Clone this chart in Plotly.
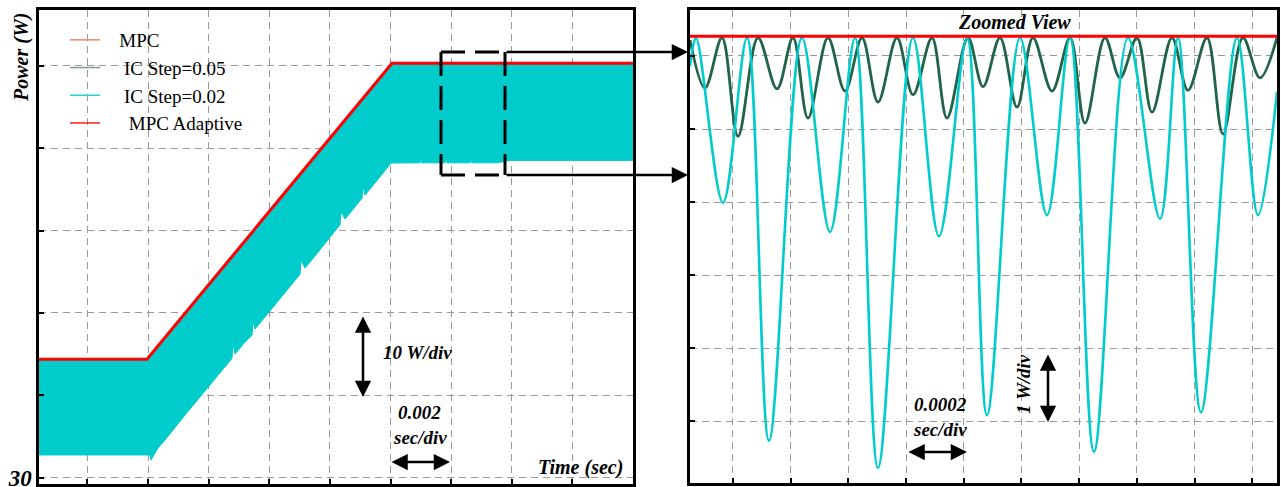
import plotly.graph_objects as go

# ---------------- data ----------------
# Left panel: full transient (time in ms, power in W)
mpc_adaptive_t = [0.0, 3.564, 11.648, 19.6]
mpc_adaptive_p = [44.4, 44.4, 80.27, 80.27]

# IC Step=0.02 band (upper envelope follows the MPC Adaptive curve)
ic02_lower_t = [0.0, 3.663, 3.696, 3.762, 3.927, 4.158, 4.488, 4.818, 5.148, 5.478,
                5.807, 6.137, 6.368, 6.401, 6.467, 6.797, 7.028, 7.061, 7.127, 7.457,
                7.787, 8.117, 8.447, 8.612, 8.645, 8.777, 9.107, 9.437, 9.767, 9.932,
                9.965, 10.097, 10.427, 10.658, 10.691, 10.757, 11.087, 11.417, 11.615,
                12.572, 12.60, 12.63, 13.397, 13.43, 13.46, 14.222, 14.25, 14.28,
                15.113, 15.542, 19.6]
ic02_lower_p = [32.79, 32.79, 32.18, 32.55, 33.64, 34.61, 36.18, 37.64, 39.09, 40.55,
                42.12, 43.58, 44.5, 46.3, 45.03, 46.48, 47.3, 49.0, 48.06, 49.52,
                50.97, 52.42, 54.0, 54.7, 56.4, 55.45, 56.91, 58.36, 59.94, 60.7,
                62.3, 61.39, 62.85, 63.9, 65.4, 64.30, 65.76, 67.33, 68.18,
                68.2, 68.9, 68.2, 68.2, 69.0, 68.2, 68.2, 68.9, 68.2,
                68.2, 68.5, 68.5]

# Right panel: zoomed view (time in ms, power in W)
zoom_red_t = [13.3, 15.3347]
zoom_red_p = [80.27, 80.27]

zoom_ic02_t = [13.3000, 13.3208, 13.4144, 13.4976, 13.5738, 13.6882, 13.7853, 13.8719,
               13.9516, 14.0730, 14.1631, 14.2601, 14.3295, 14.4438, 14.5374, 14.6172,
               14.7003, 14.8182, 14.9291, 14.9915, 15.0712, 15.1960, 15.2688, 15.3347]
zoom_ic02_p = [79.86, 80.25, 77.99, 80.25, 74.73, 80.25, 77.59, 80.25, 74.36, 80.25,
               77.53, 80.25, 75.08, 80.25, 77.82, 80.25, 74.58, 80.25, 77.77, 80.25,
               75.12, 80.25, 77.82, 79.51]

zoom_ic05_t = [13.3000, 13.3520, 13.4109, 13.4664, 13.5357, 13.6016, 13.6570, 13.7090,
               13.7783, 13.8373, 13.8962, 13.9516, 14.0175, 14.0730, 14.1388, 14.1908,
               14.2636, 14.3156, 14.3745, 14.4334, 14.4889, 14.5548, 14.6172, 14.6691,
               14.7385, 14.7905, 14.8494, 14.9014, 14.9707, 15.0262, 15.0920, 15.1475,
               15.2168, 15.2757, 15.3347]
zoom_ic05_p = [80.22, 79.56, 80.25, 78.90, 80.25, 79.55, 80.25, 79.15, 80.25, 79.52,
               80.25, 79.37, 80.25, 79.47, 80.25, 79.15, 80.25, 79.58, 80.25, 79.30,
               80.25, 79.52, 80.25, 79.08, 80.25, 79.70, 80.25, 79.23, 80.25, 79.53,
               80.25, 78.93, 80.25, 79.70, 80.25]

legend_names = ["MPC", "IC Step=0.05", "IC Step=0.02", "MPC Adaptive"]
legend_indent = [3, 4, 4, 5]
legend_colors = ["#EE8A66", "#7A9E8A", "#2CCFCF", "#FF1A1A"]

# ---------------- styles ----------------
W, H = 1281, 487
CYAN = "#00CCCC"
RED = "#FF0000"
DGREEN = "#21644A"
SERIF = "Liberation Serif"


def px(xp):
    return xp / W


def py(yp):
    return 1 - yp / H


fig = go.Figure()

# left panel
fig.add_trace(go.Scatter(x=mpc_adaptive_t, y=mpc_adaptive_p, mode="lines",
                         line=dict(color=CYAN, width=1), showlegend=False,
                         xaxis="x", yaxis="y", hoverinfo="skip"))
fig.add_trace(go.Scatter(x=ic02_lower_t, y=ic02_lower_p, mode="lines",
                         line=dict(color=CYAN, width=1), fill="tonexty",
                         fillcolor=CYAN, showlegend=False, xaxis="x", yaxis="y"))
fig.add_trace(go.Scatter(x=mpc_adaptive_t, y=mpc_adaptive_p, mode="lines",
                         line=dict(color=RED, width=3), showlegend=False,
                         xaxis="x", yaxis="y"))

# right panel
fig.add_trace(go.Scatter(x=zoom_ic05_t, y=zoom_ic05_p, mode="lines",
                         line=dict(color=DGREEN, width=2.8, shape="spline", smoothing=1),
                         showlegend=False, xaxis="x2", yaxis="y2"))
fig.add_trace(go.Scatter(x=zoom_ic02_t, y=zoom_ic02_p, mode="lines",
                         line=dict(color=CYAN, width=2.6, shape="spline", smoothing=1),
                         showlegend=False, xaxis="x2", yaxis="y2"))
fig.add_trace(go.Scatter(x=zoom_red_t, y=zoom_red_p, mode="lines",
                         line=dict(color=RED, width=3), showlegend=False,
                         xaxis="x2", yaxis="y2"))

# legend entries
for name, ind, col in zip(legend_names, legend_indent, legend_colors):
    fig.add_trace(go.Scatter(x=[None], y=[None], mode="lines", name="\u00a0" * ind + name,
                             line=dict(color=col, width=1.5), xaxis="x", yaxis="y"))

grid = dict(showgrid=True, gridcolor="#9A9A9A", gridwidth=1, griddash="7px,5px",
            zeroline=False, showline=True, linecolor="black", linewidth=2.5,
            mirror=True, ticks="inside", ticklen=5, tickwidth=2, tickcolor="black",
            automargin=False)

fig.update_layout(
    width=W, height=H,
    margin=dict(l=0, r=0, t=0, b=0),
    paper_bgcolor="white", plot_bgcolor="white",
    showlegend=True,
    legend=dict(x=px(65), y=py(21), xanchor="left", yanchor="top", traceorder="normal",
                bgcolor="rgba(255,255,255,0)",
                font=dict(family=SERIF, size=19, color="black")),
    xaxis=dict(domain=[px(39), px(633)], range=[0, 19.6], tick0=1.6, dtick=2,
               showticklabels=False, **grid),
    yaxis=dict(domain=[py(484), py(10)], range=[29.27, 86.73],
               tickvals=[30, 40, 50, 60, 70, 80], ticktext=["30", "", "", "", "", ""],
               ticklabeloverflow="allow", ticklabelstandoff=0,
               tickfont=dict(family=SERIF, size=23, color="black", weight="bold", style="italic"),
               **grid),
    xaxis2=dict(domain=[px(690), px(1277)], range=[13.3, 15.3347], tick0=13.449, dtick=0.2,
                showticklabels=False, anchor="y2", **grid),
    yaxis2=dict(domain=[py(483), py(10)], range=[74.151, 80.630], tick0=75, dtick=1,
                showticklabels=False, anchor="x2", **grid),
)

bi = dict(family=SERIF, color="black", weight="bold", style="italic")


def text(s, x, y, size, angle=0):
    fig.add_annotation(text=s, x=px(x), y=py(y), xref="paper", yref="paper",
                       showarrow=False, textangle=angle,
                       font=dict(size=size, **bi), xanchor="center", yanchor="middle")


text("Power (W)", 22, 58, 20, -90)
text("10 W/div", 418, 352, 19)
text("0.002", 420, 412, 19)
text("sec/div", 420, 437, 19)
text("Time (sec)", 580, 467, 20)
text("Zoomed View", 1014, 22, 20)
text("0.0002", 940, 404, 19)
text("sec/div", 940, 429, 19)
text("1 W/div", 1023, 384, 19, -90)


def arrow(hx, hy, tx, ty, side="end+start"):
    fig.add_annotation(text="", x=px(hx), y=py(hy), xref="paper", yref="paper",
                       ax=tx - hx, ay=ty - hy, axref="pixel", ayref="pixel",
                       showarrow=True, arrowhead=2, arrowsize=1.3, arrowwidth=2.5,
                       arrowcolor="black", arrowside=side, standoff=0, startstandoff=0)


arrow(363, 397, 363, 315)
arrow(450, 462, 390, 462)
arrow(967, 452, 907, 452)
arrow(1048, 422, 1048, 353)
arrow(688, 52, 505, 52, "end")
arrow(688, 175, 505, 175, "end")

dash = dict(color="black", width=3, dash="24px,10px")
for (x0, y0, x1, y1) in [(441, 52, 441, 175), (505, 52, 505, 175),
                         (441, 52, 505, 52), (441, 175, 505, 175)]:
    fig.add_shape(type="line", xref="paper", yref="paper",
                  x0=px(x0), y0=py(y0), x1=px(x1), y1=py(y1), line=dash, layer="above")

fig.write_html("out.html", config={"displayModeBar": False},
               post_script="document.body.style.margin='0';document.body.style.overflow='hidden';")
